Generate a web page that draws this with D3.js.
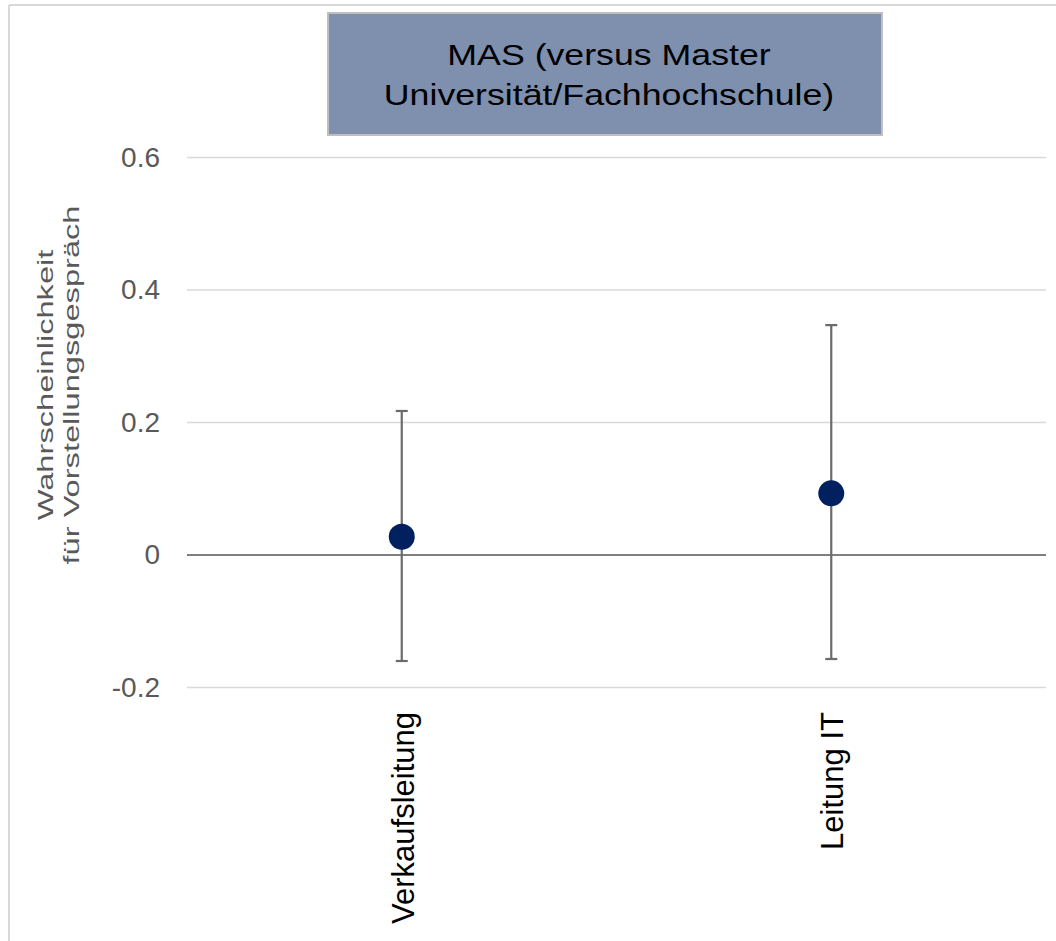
<!DOCTYPE html>
<html><head><meta charset="utf-8">
<script src="https://cdn.jsdelivr.net/npm/d3@7"></script>
<style>body{margin:0;background:#fff}svg{display:block}text{font-family:"Liberation Sans",Arial,sans-serif}</style>
</head><body>
<script>
const categories = ["Verkaufsleitung", "Leitung IT"];
const estimates = [0.0276, 0.0931];
const upper = [0.2174, 0.347];
const lower = [-0.160, -0.157];
const yTicks = [-0.2, 0, 0.2, 0.4, 0.6];
const yTickLabels = ["-0.2", "0", "0.2", "0.4", "0.6"];
const titleLines = ["MAS (versus Master", "Universität/Fachhochschule)"];
const yTitleLines = ["Wahrscheinlichkeit", "für Vorstellungsgespräch"];

const W = 1056, H = 941;
const svg = d3.select("body").append("svg").attr("width", W).attr("height", H);

// outer frame
svg.append("line").attr("x1", 9).attr("x2", 9).attr("y1", 5).attr("y2", H).attr("stroke", "#d9d9d9").attr("stroke-width", 2);
svg.append("line").attr("x1", 9).attr("x2", W).attr("y1", 5).attr("y2", 5).attr("stroke", "#d9d9d9").attr("stroke-width", 2);

const x = d3.scaleBand().domain(categories).range([187, 1046]);
const y = d3.scaleLinear().domain([-0.2, 0.6]).range([687.5, 157.5]);

// grid
svg.append("g").selectAll("line").data(yTicks).join("line")
  .attr("x1", 187).attr("x2", 1046)
  .attr("y1", d => y(d)).attr("y2", d => y(d))
  .attr("stroke", d => d === 0 ? "#7f7f7f" : "#d9d9d9")
  .attr("stroke-width", d => d === 0 ? 2 : 1.5);

// y tick labels via axis
const yAxis = d3.axisLeft(y).tickValues(yTicks).tickSize(0).tickPadding(0)
  .tickFormat((d, i) => yTickLabels[i]);
const ga = svg.append("g").attr("transform", "translate(160,0)").call(yAxis);
ga.select(".domain").remove();
ga.selectAll("text").attr("font-size", 28).attr("fill", "#595959")
  .style("font-family", '"Liberation Sans",Arial,sans-serif');

// y title
const yt = svg.append("text").attr("transform", "translate(0,385) rotate(-90) scale(1.45,1)")
  .attr("text-anchor", "middle").attr("font-size", 22.5).attr("fill", "#595959");
yTitleLines.forEach((t, i) => yt.append("tspan").attr("x", 0).attr("y", 53 + i * 26).text(t));

// category labels
svg.append("g").selectAll("text").data(categories).join("text")
  .attr("transform", d => `translate(${x(d) + x.bandwidth() / 2 + 12},712) rotate(-90)`)
  .attr("text-anchor", "end").attr("font-size", 31).attr("fill", "#000")
  .text(d => d);

// error bars
const cx = i => x(categories[i]) + x.bandwidth() / 2;
const eb = svg.append("g").attr("stroke", "#6b6b6b").attr("stroke-width", 2.2);
categories.forEach((c, i) => {
  eb.append("line").attr("x1", cx(i)).attr("x2", cx(i)).attr("y1", y(upper[i])).attr("y2", y(lower[i]));
  [upper[i], lower[i]].forEach(v => eb.append("line").attr("x1", cx(i) - 6).attr("x2", cx(i) + 6).attr("y1", y(v)).attr("y2", y(v)));
});

// points
svg.append("g").selectAll("circle").data(estimates).join("circle")
  .attr("cx", (d, i) => cx(i)).attr("cy", d => y(d)).attr("r", 13).attr("fill", "#002060");

// title box
svg.append("rect").attr("x", 328).attr("y", 13).attr("width", 554).attr("height", 122)
  .attr("fill", "#7f8fae").attr("stroke", "#bfbfbf").attr("stroke-width", 2);
const tt = svg.append("text").attr("transform", "translate(609,0) scale(1.19,1)")
  .attr("text-anchor", "middle").attr("font-size", 30).attr("fill", "#000");
titleLines.forEach((t, i) => tt.append("tspan").attr("x", 0).attr("y", 65 + i * 40).text(t));
</script>
</body></html>
